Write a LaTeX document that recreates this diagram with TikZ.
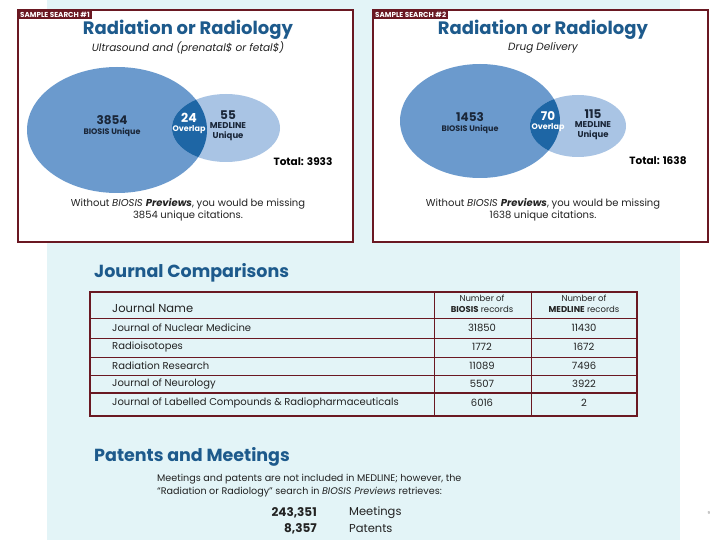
\documentclass[tikz,border=0pt]{standalone}
\usepackage{fontspec}
\setmainfont{Poppins}
\usetikzlibrary{positioning}

\definecolor{panelcyan}{HTML}{E3F4F7}
\definecolor{boxred}{HTML}{6A1822}
\definecolor{titleblue}{HTML}{1D5A8C}
\definecolor{biosisblue}{HTML}{6B9ACD}
\definecolor{medlineblue}{HTML}{A9C4E4}
\definecolor{overlapblue}{HTML}{1E66A5}
\definecolor{inktext}{HTML}{222222}
\definecolor{venntext}{HTML}{1A2638}

\tikzset{
  searchbox/.style={draw=boxred, line width=1.5pt, fill=white},
  searchtag/.style={fill=boxred, text=white, font=\bfseries\fontsize{7.2}{8}\selectfont, inner xsep=2pt, inner ysep=1.5pt, anchor=north west},
  bigtitle/.style={text=titleblue, font=\bfseries\fontsize{18}{20}\selectfont, inner sep=0pt},
  sectitle/.style={text=titleblue, font=\bfseries\fontsize{17.5}{19}\selectfont, inner sep=0pt, anchor=west},
  subtitle/.style={text=inktext, font=\itshape\fontsize{10.5}{12}\selectfont, inner sep=0pt},
  vennnum/.style={text=venntext, font=\bfseries\fontsize{12}{13}\selectfont, inner sep=0pt},
  vennlabel/.style={text=venntext, font=\bfseries\fontsize{8}{9.5}\selectfont, inner sep=0pt, align=center},
  bodytext/.style={text=inktext, font=\fontsize{10}{12.5}\selectfont, inner sep=0pt, align=center},
  tablerule/.style={draw=boxred, line width=0.6pt},
  celltext/.style={text=inktext, font=\fontsize{10}{11}\selectfont, inner sep=0pt},
  headtext/.style={text=inktext, font=\fontsize{8.5}{10.5}\selectfont, inner sep=0pt, align=center}
}

\begin{document}
\begin{tikzpicture}[x=1pt, y=-1pt]
        \useasboundingbox (0,0) rectangle (720,540);
        \fill[white] (0,0) rectangle (720,540);
        \fill[panelcyan] (47,0) rectangle (680,540);

        % Sample search 1
        \draw[searchbox] (18,10) rectangle (353,242);
        \node[searchtag] (s1tag) at (18,10) {SAMPLE SEARCH \#1};
        \node[bigtitle] (s1title) at (188,30) {Radiation or Radiology};
        \node[subtitle] (s1query) at (188,48) {Ultrasound and (prenatal\$ or fetal\$)};

        \fill[biosisblue] (117,130) ellipse [x radius=90pt, y radius=63pt];
        \fill[medlineblue] (226,128) ellipse [x radius=54pt, y radius=34pt];
        \begin{scope}
          \clip (117,130) ellipse [x radius=90pt, y radius=63pt];
          \fill[overlapblue] (226,128) ellipse [x radius=54pt, y radius=34pt];
        \end{scope}

        \node[vennnum] (s1biosis) at (112,120) {3854};
        \node[vennlabel, below=3pt of s1biosis] (s1biosislbl) {BIOSIS Unique};
        \node[vennnum, text=white, font=\bfseries\fontsize{12.5}{13}\selectfont] (s1overlap) at (189,118) {24};
        \node[vennlabel, text=white, below=3pt of s1overlap] (s1overlaplbl) {Overlap};
        \node[vennnum] (s1medline) at (228,115) {55};
        \node[vennlabel, font=\bfseries\fontsize{8.5}{9.5}\selectfont, below=3pt of s1medline] (s1medlinelbl) {MEDLINE\\Unique};
        \node[vennlabel, text=black, font=\bfseries\fontsize{10.5}{12}\selectfont] (s1total) at (303,162) {Total: 3933};
        \node[bodytext] (s1note) at (188,210) {Without \textit{BIOSIS \textbf{Previews}}, you would be missing\\3854 unique citations.};

        % Sample search 2
        \draw[searchbox] (373,10) rectangle (708,242);
        \node[searchtag] (s2tag) at (373,10) {SAMPLE SEARCH \#2};
        \node[bigtitle] (s2title) at (543,30) {Radiation or Radiology};
        \node[subtitle] (s2query) at (543,48) {Drug Delivery};

        \fill[biosisblue] (480,121) ellipse [x radius=80pt, y radius=57pt];
        \fill[medlineblue] (578,126) ellipse [x radius=48pt, y radius=31pt];
        \begin{scope}
          \clip (480,121) ellipse [x radius=80pt, y radius=57pt];
          \fill[overlapblue] (578,126) ellipse [x radius=48pt, y radius=31pt];
        \end{scope}

        \node[vennnum] (s2biosis) at (470,117) {1453};
        \node[vennlabel, below=3pt of s2biosis] (s2biosislbl) {BIOSIS Unique};
        \node[vennnum, text=white] (s2overlap) at (548,116) {70};
        \node[vennlabel, text=white, below=3pt of s2overlap] (s2overlaplbl) {Overlap};
        \node[vennnum] (s2medline) at (593,114) {115};
        \node[vennlabel, font=\bfseries\fontsize{8.5}{9.5}\selectfont, below=3pt of s2medline] (s2medlinelbl) {MEDLINE\\Unique};
        \node[vennlabel, text=black, font=\bfseries\fontsize{10.5}{12}\selectfont] (s2total) at (658,161) {Total: 1638};
        \node[bodytext] (s2note) at (543,210) {Without \textit{BIOSIS \textbf{Previews}}, you would be missing\\1638 unique citations.};

        % Journal comparisons
        \node[sectitle] (jtitle) at (94,273) {Journal Comparisons};
        \draw[boxred, line width=1.3pt] (90,292) rectangle (637,416);
        \draw[tablerule] (434,292) -- (434,416);
        \draw[tablerule] (531,292) -- (531,416);
        \draw[tablerule] (90,318) -- (637,318);
        \draw[tablerule] (90,338) -- (637,338);
        \draw[tablerule] (90,357) -- (637,357);
        \draw[tablerule] (90,375) -- (637,375);
        \draw[tablerule, line width=1.3pt] (90,393) -- (637,393);

        \node[celltext, anchor=west, font=\fontsize{11.5}{12}\selectfont] (jhead) at (112,308) {Journal Name};
        \node[headtext] (jhbiosis) at (482,304) {Number of\\\textbf{BIOSIS} records};
        \node[headtext] (jhmedline) at (584,304) {Number of\\\textbf{MEDLINE} records};

        \node[celltext, anchor=west] (jrow1) at (112,328) {Journal of Nuclear Medicine};
        \node[celltext] (jrow1b) at (482,328) {31850};
        \node[celltext] (jrow1m) at (584,328) {11430};
        \node[celltext, anchor=west] (jrow2) at (112,347) {Radioisotopes};
        \node[celltext] (jrow2b) at (482,347) {1772};
        \node[celltext] (jrow2m) at (584,347) {1672};
        \node[celltext, anchor=west] (jrow3) at (112,366) {Radiation Research};
        \node[celltext] (jrow3b) at (482,366) {11089};
        \node[celltext] (jrow3m) at (584,366) {7496};
        \node[celltext, anchor=west] (jrow4) at (112,384) {Journal of Neurology};
        \node[celltext] (jrow4b) at (482,384) {5507};
        \node[celltext] (jrow4m) at (584,384) {3922};
        \node[celltext, anchor=west] (jrow5) at (112,403) {Journal of Labelled Compounds \& Radiopharmaceuticals};
        \node[celltext] (jrow5b) at (482,403) {6016};
        \node[celltext] (jrow5m) at (584,403) {2};

        % Patents and meetings
        \node[sectitle] (ptitle) at (94,457) {Patents and Meetings};
        \node[bodytext, font=\fontsize{9.6}{13}\selectfont, anchor=north west, align=left] (pnote) at (157,474) {Meetings and patents are not included in MEDLINE; however, the\\``Radiation or Radiology'' search in \textit{BIOSIS Previews} retrieves:};
        \node[celltext, anchor=east, font=\bfseries\fontsize{12}{13}\selectfont] (pmeetn) at (317,513) {243,351};
        \node[celltext, anchor=west, font=\fontsize{11.5}{13}\selectfont] (pmeet) at (349,513) {Meetings};
        \node[celltext, anchor=east, font=\bfseries\fontsize{12}{13}\selectfont] (ppatn) at (317,529) {8,357};
        \node[celltext, anchor=west, font=\fontsize{11.5}{13}\selectfont] (ppat) at (349,529) {Patents};

        \node[text=gray, font=\fontsize{4}{5}\selectfont, inner sep=0pt] (pageno) at (709,513) {9};
    \end{tikzpicture}
\end{document}
